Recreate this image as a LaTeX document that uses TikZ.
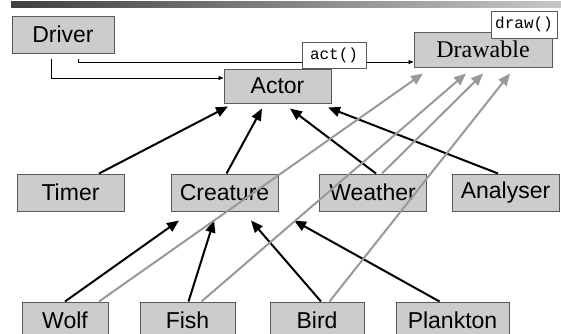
\documentclass[tikz,border=0pt]{standalone}
\usepackage{fontspec}
\setmainfont{Liberation Serif}
\setsansfont{Liberation Sans}
\setmonofont{Liberation Mono}
\usetikzlibrary{positioning,arrows.meta}

\begin{document}
\begin{tikzpicture}[
  x=1pt, y=-1pt,
  class/.style={draw=black!65, fill=black!20, line width=1pt, inner sep=0pt,
                minimum height=37pt, font=\fontsize{23}{23}\selectfont\sffamily},
  method/.style={draw=black!65, fill=white, line width=0.8pt, inner sep=0pt,
                 minimum height=26pt, font=\fontsize{16}{16}\selectfont\ttfamily},
  inh/.style={-{Triangle[length=12pt,width=10pt]}, line width=2pt, black},
  iface/.style={inh, black!40},
  call/.style={-{Triangle[length=5pt,width=4pt]}, line width=0.8pt, black},
]
\useasboundingbox (0,0) rectangle (561,333);
\clip (0,0) rectangle (561,333);
\shade[left color=black!75, right color=black!22] (11,1) rectangle (561,7);

% classes
\node[class, minimum width=102pt] (driver) at (63,34.5) {Driver};
\node[class, minimum width=107pt, minimum height=34pt] (actor) at (277.5,86) {Actor};
\node[class, minimum width=138pt, minimum height=35pt,
      font=\fontsize{24}{24}\selectfont\rmfamily] (drawable) at (483,49.5) {Drawable};

\node[class, minimum width=107pt] (timer) at (70.5,192.5) {Timer};
\node[class, minimum width=107pt, right=46pt of timer]    (creature) {Creature};
\node[class, minimum width=107pt, right=40pt of creature] (weather)  {Weather};
\node[class, minimum width=107pt, right=25pt of weather]  (analyser) {Analyser};

\node[class, minimum width=86pt] (wolf) at (65,320.5) {Wolf};
\node[class, minimum width=95pt,  right=31pt of wolf] (fish)     {Fish};
\node[class, minimum width=94pt,  right=34pt of fish] (bird)     {Bird};
\node[class, minimum width=113pt, right=31pt of bird] (plankton) {Plankton};

% calls from the driver
\draw[call] ([xshift=-12pt,yshift=-5pt]driver.south) |- ([yshift=8pt]actor.west);
\draw[call] ([xshift=15pt,yshift=-5pt]driver.south) |- ([yshift=-12.5pt]drawable.west);
\node[method, minimum width=64pt] (act) at (334,55) {act()};
\node[method, minimum width=66pt, minimum height=27pt] (draw) at (524,24.5) {draw()};

% subclasses of actor
\draw[inh] ([xshift=28.5pt]timer.north)   -- ([xshift=-49.5pt,yshift=-3pt]actor.south);
\draw[inh] ([xshift=2pt]creature.north)   -- ([xshift=-15.5pt,yshift=-5pt]actor.south);
\draw[inh] ([xshift=3.5pt]weather.north)  -- ([xshift=12.5pt,yshift=-5pt]actor.south);
\draw[inh] ([xshift=-7.5pt]analyser.north) -- ([xshift=50.5pt,yshift=-4pt]actor.south);

% subclasses of creature
\draw[inh] (wolf.north)                  -- ([xshift=-45.5pt,yshift=-9pt]creature.south);
\draw[inh] ([xshift=1pt]fish.north)      -- ([xshift=-10.5pt,yshift=-9pt]creature.south);
\draw[inh] ([xshift=4pt]bird.north)      -- ([xshift=26.5pt,yshift=-9pt]creature.south);
\draw[inh] ([xshift=-13pt]plankton.north) -- ([xshift=69.5pt,yshift=-9pt]creature.south);

% drawable ones
\draw[iface] ([xshift=34pt]wolf.north)    -- ([xshift=-60pt,yshift=-6pt]drawable.south);
\draw[iface] ([xshift=14pt]fish.north)    -- ([xshift=-17pt,yshift=-6pt]drawable.south);
\draw[iface] ([xshift=9.5pt]weather.north) -- ([yshift=-6pt]drawable.south);
\draw[iface] ([xshift=12.5pt]bird.north)  -- ([xshift=27pt,yshift=-6pt]drawable.south);
\end{tikzpicture}
\end{document}
